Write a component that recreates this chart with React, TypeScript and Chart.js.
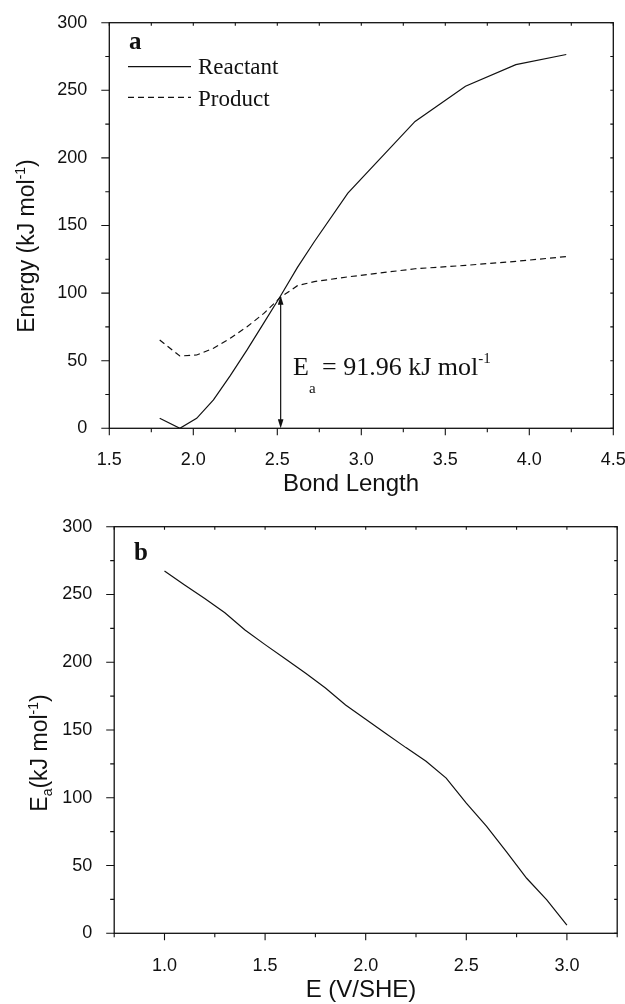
import React, { useEffect, useRef } from "react";
import { Chart, registerables } from "chart.js";
Chart.register(...registerables);

// ---- Panel a data ----
const bondLength = [1.8, 1.92, 2.02, 2.12, 2.22, 2.32, 2.42, 2.52, 2.62, 2.72, 2.92, 3.32, 3.62, 3.92, 4.22];
const reactant = [7.4, 0, 7.4, 21, 39, 58, 78, 98, 119, 138, 174, 227, 253, 269, 276.5];
const product = [65.3, 53.5, 54.2, 59.2, 66.6, 75.1, 85, 97, 105.5, 108.5, 112, 118, 120.5, 123.5, 127];
const topXTicks = [1.5, 2.0, 2.5, 3.0, 3.5, 4.0, 4.5];
const energyTicks = [0, 50, 100, 150, 200, 250, 300];
const crossingX = 2.52;
const crossingY = 98;
const eaText = "91.96";

// ---- Panel b data ----
const potential = [1.0, 1.1, 1.2, 1.3, 1.4, 1.5, 1.6, 1.7, 1.8, 1.9, 2.0, 2.1, 2.2, 2.3, 2.4, 2.5, 2.6, 2.7, 2.8, 2.9, 3.0];
const activation = [267.3, 257, 247, 236.5, 223.8, 213, 202.5, 192, 181, 168.4, 158, 147.5, 137, 127, 114.5, 96, 79, 60, 40.6, 24.6, 6.1];
const bottomXTicks = [1.0, 1.5, 2.0, 2.5, 3.0];

const SANS = "'Liberation Sans', Arial, Helvetica, sans-serif";
const SERIF = "'Liberation Serif', 'Times New Roman', serif";
const INK = "#111";

type Part = { t: string; size: number; dy?: number; family: string; weight?: string };

function drawRich(ctx: CanvasRenderingContext2D, parts: Part[], x: number, y: number, align: "left" | "center") {
  let w = 0;
  for (const p of parts) {
    ctx.font = `${p.weight || "normal"} ${p.size}px ${p.family}`;
    w += ctx.measureText(p.t).width;
  }
  let cx = align === "center" ? x - w / 2 : x;
  ctx.textAlign = "left";
  ctx.textBaseline = "alphabetic";
  for (const p of parts) {
    ctx.font = `${p.weight || "normal"} ${p.size}px ${p.family}`;
    ctx.fillText(p.t, cx, y + (p.dy || 0));
    cx += ctx.measureText(p.t).width;
  }
}

function frameAndTicks(chart: any, xMinorStep: number, yMinorStep: number) {
  const ctx: CanvasRenderingContext2D = chart.ctx;
  const { left, right, top, bottom } = chart.chartArea;
  const xs = chart.scales.x;
  const ys = chart.scales.y;
  ctx.save();
  ctx.strokeStyle = INK;
  ctx.lineWidth = 1.3;
  ctx.strokeRect(left, top, right - left, bottom - top);
  ctx.lineWidth = 1.1;
  ctx.beginPath();
  const nx = Math.round((xs.max - xs.min) / xMinorStep);
  for (let i = 0; i <= nx; i++) {
    const v = xs.min + i * xMinorStep;
    const px = xs.getPixelForValue(v);
    const major = Math.abs(v / 0.5 - Math.round(v / 0.5)) < 1e-6;
    ctx.moveTo(px, bottom);
    ctx.lineTo(px, bottom + (major ? 7 : 4));
    ctx.moveTo(px, top);
    ctx.lineTo(px, top + 3);
  }
  const ny = Math.round((ys.max - ys.min) / yMinorStep);
  for (let i = 0; i <= ny; i++) {
    const v = ys.min + i * yMinorStep;
    const py = ys.getPixelForValue(v);
    const major = i % 2 === 0;
    ctx.moveTo(left, py);
    ctx.lineTo(left - (major ? 8 : 4), py);
    ctx.moveTo(right, py);
    ctx.lineTo(right - 3, py);
  }
  ctx.stroke();
  ctx.restore();
}

function baseOptions(xMin: number, xMax: number, xTicks: number[], yW: number, xH: number, pad: any, yPad: number, xPad: number) {
  return {
    responsive: false,
    animation: false as const,
    devicePixelRatio: 1,
    layout: { padding: pad },
    plugins: { legend: { display: false }, tooltip: { enabled: false } },
    elements: { point: { radius: 0 }, line: { tension: 0 } },
    scales: {
      x: {
        type: "linear" as const,
        min: xMin,
        max: xMax,
        grid: { display: false },
        border: { display: false },
        afterBuildTicks: (s: any) => {
          s.ticks = xTicks.map((v) => ({ value: v }));
        },
        afterFit: (s: any) => {
          s.height = xH;
          s.paddingLeft = 0;
          s.paddingRight = 0;
        },
        ticks: {
          autoSkip: false,
          maxRotation: 0,
          padding: xPad,
          color: INK,
          font: { family: SANS, size: 18 },
          callback: (v: any) => Number(v).toFixed(1),
        },
      },
      y: {
        type: "linear" as const,
        min: 0,
        max: 300,
        grid: { display: false },
        border: { display: false },
        afterBuildTicks: (s: any) => {
          s.ticks = energyTicks.map((v) => ({ value: v }));
        },
        afterFit: (s: any) => {
          s.width = yW;
          s.paddingTop = 0;
          s.paddingBottom = 0;
        },
        ticks: {
          padding: yPad,
          color: INK,
          font: { family: SANS, size: 18 },
          callback: (v: any) => String(v),
        },
      },
    },
  };
}

function TopChart() {
  const ref = useRef<HTMLCanvasElement | null>(null);
  useEffect(() => {
    if (!ref.current) return;
    const deco = {
      id: "decoA",
      afterDraw(chart: any) {
        const ctx: CanvasRenderingContext2D = chart.ctx;
        frameAndTicks(chart, 0.25, 25);
        const xs = chart.scales.x;
        const ys = chart.scales.y;
        ctx.save();
        ctx.fillStyle = INK;
        ctx.strokeStyle = INK;
        // axis titles
        drawRich(ctx, [{ t: "Bond Length", size: 24, family: SANS }], 351, 491, "center");
        ctx.save();
        ctx.translate(34, 246);
        ctx.rotate(-Math.PI / 2);
        drawRich(
          ctx,
          [
            { t: "Energy (kJ mol", size: 23, family: SANS },
            { t: "-1", size: 14, dy: -9, family: SANS },
            { t: ")", size: 23, family: SANS },
          ],
          0,
          0,
          "center"
        );
        ctx.restore();
        // panel letter
        drawRich(ctx, [{ t: "a", size: 25, family: SERIF, weight: "bold" }], 129, 49, "left");
        // legend
        ctx.lineWidth = 1.3;
        ctx.setLineDash([]);
        ctx.beginPath();
        ctx.moveTo(128, 66.7);
        ctx.lineTo(191, 66.7);
        ctx.stroke();
        ctx.setLineDash([6, 4]);
        ctx.beginPath();
        ctx.moveTo(128, 97.3);
        ctx.lineTo(191, 97.3);
        ctx.stroke();
        ctx.setLineDash([]);
        drawRich(ctx, [{ t: "Reactant", size: 23, family: SERIF }], 198, 74, "left");
        drawRich(ctx, [{ t: "Product", size: 23, family: SERIF }], 198, 106, "left");
        // arrow
        const ax = xs.getPixelForValue(crossingX);
        const y0 = ys.getPixelForValue(0);
        const y1 = ys.getPixelForValue(crossingY);
        ctx.lineWidth = 1.2;
        ctx.beginPath();
        ctx.moveTo(ax, y0 - 8);
        ctx.lineTo(ax, y1 + 8);
        ctx.stroke();
        ctx.beginPath();
        ctx.moveTo(ax, y1);
        ctx.lineTo(ax - 2.8, y1 + 9);
        ctx.lineTo(ax + 2.8, y1 + 9);
        ctx.closePath();
        ctx.fill();
        ctx.beginPath();
        ctx.moveTo(ax, y0);
        ctx.lineTo(ax - 2.8, y0 - 9);
        ctx.lineTo(ax + 2.8, y0 - 9);
        ctx.closePath();
        ctx.fill();
        // Ea label
        drawRich(
          ctx,
          [
            { t: "E", size: 26, family: SERIF },
            { t: "a", size: 15, dy: 18, family: SERIF },
            { t: " = " + eaText + " kJ mol", size: 26, family: SERIF },
            { t: "-1", size: 15, dy: -12, family: SERIF },
          ],
          293,
          375,
          "left"
        );
        ctx.restore();
      },
    };
    const chart = new Chart(ref.current, {
      type: "line",
      data: {
        datasets: [
          {
            label: "Reactant",
            data: bondLength.map((x, i) => ({ x, y: reactant[i] })),
            borderColor: INK,
            borderWidth: 1.2,
            fill: false,
          },
          {
            label: "Product",
            data: bondLength.map((x, i) => ({ x, y: product[i] })),
            borderColor: INK,
            borderWidth: 1.2,
            borderDash: [6, 4],
            fill: false,
          },
        ],
      },
      options: baseOptions(1.5, 4.5, topXTicks, 109.3, 71.7, { left: 0, right: 11.7, top: 22.7, bottom: 0 }, 14, 13) as any,
      plugins: [deco],
    });
    return () => chart.destroy();
  }, []);
  return <canvas ref={ref} width={625} height={500} style={{ display: "block" }} />;
}

function BottomChart() {
  const ref = useRef<HTMLCanvasElement | null>(null);
  useEffect(() => {
    if (!ref.current) return;
    const deco = {
      id: "decoB",
      afterDraw(chart: any) {
        const ctx: CanvasRenderingContext2D = chart.ctx;
        frameAndTicks(chart, 0.25, 25);
        ctx.save();
        ctx.fillStyle = INK;
        drawRich(ctx, [{ t: "E (V/SHE)", size: 24, family: SANS }], 361, 497, "center");
        ctx.save();
        ctx.translate(47, 253);
        ctx.rotate(-Math.PI / 2);
        drawRich(
          ctx,
          [
            { t: "E", size: 23, family: SANS },
            { t: "a", size: 14, dy: 5, family: SANS },
            { t: "(kJ mol", size: 23, family: SANS },
            { t: "-1", size: 14, dy: -9, family: SANS },
            { t: ")", size: 23, family: SANS },
          ],
          0,
          0,
          "center"
        );
        ctx.restore();
        drawRich(ctx, [{ t: "b", size: 25, family: SERIF, weight: "bold" }], 134, 60, "left");
        ctx.restore();
      },
    };
    const chart = new Chart(ref.current, {
      type: "line",
      data: {
        datasets: [
          {
            label: "Ea",
            data: potential.map((x, i) => ({ x, y: activation[i] })),
            borderColor: INK,
            borderWidth: 1.2,
            fill: false,
          },
        ],
      },
      options: baseOptions(0.75, 3.25, bottomXTicks, 114.2, 70.7, { left: 0, right: 7.8, top: 26.7, bottom: 0 }, 14, 14) as any,
      plugins: [deco],
    });
    return () => chart.destroy();
  }, []);
  return <canvas ref={ref} width={625} height={504} style={{ display: "block" }} />;
}

export default function App() {
  return (
    <div style={{ position: "absolute", left: 0, top: 0, width: 625, height: 1004, background: "#fff" }}>
      <TopChart />
      <BottomChart />
    </div>
  );
}
